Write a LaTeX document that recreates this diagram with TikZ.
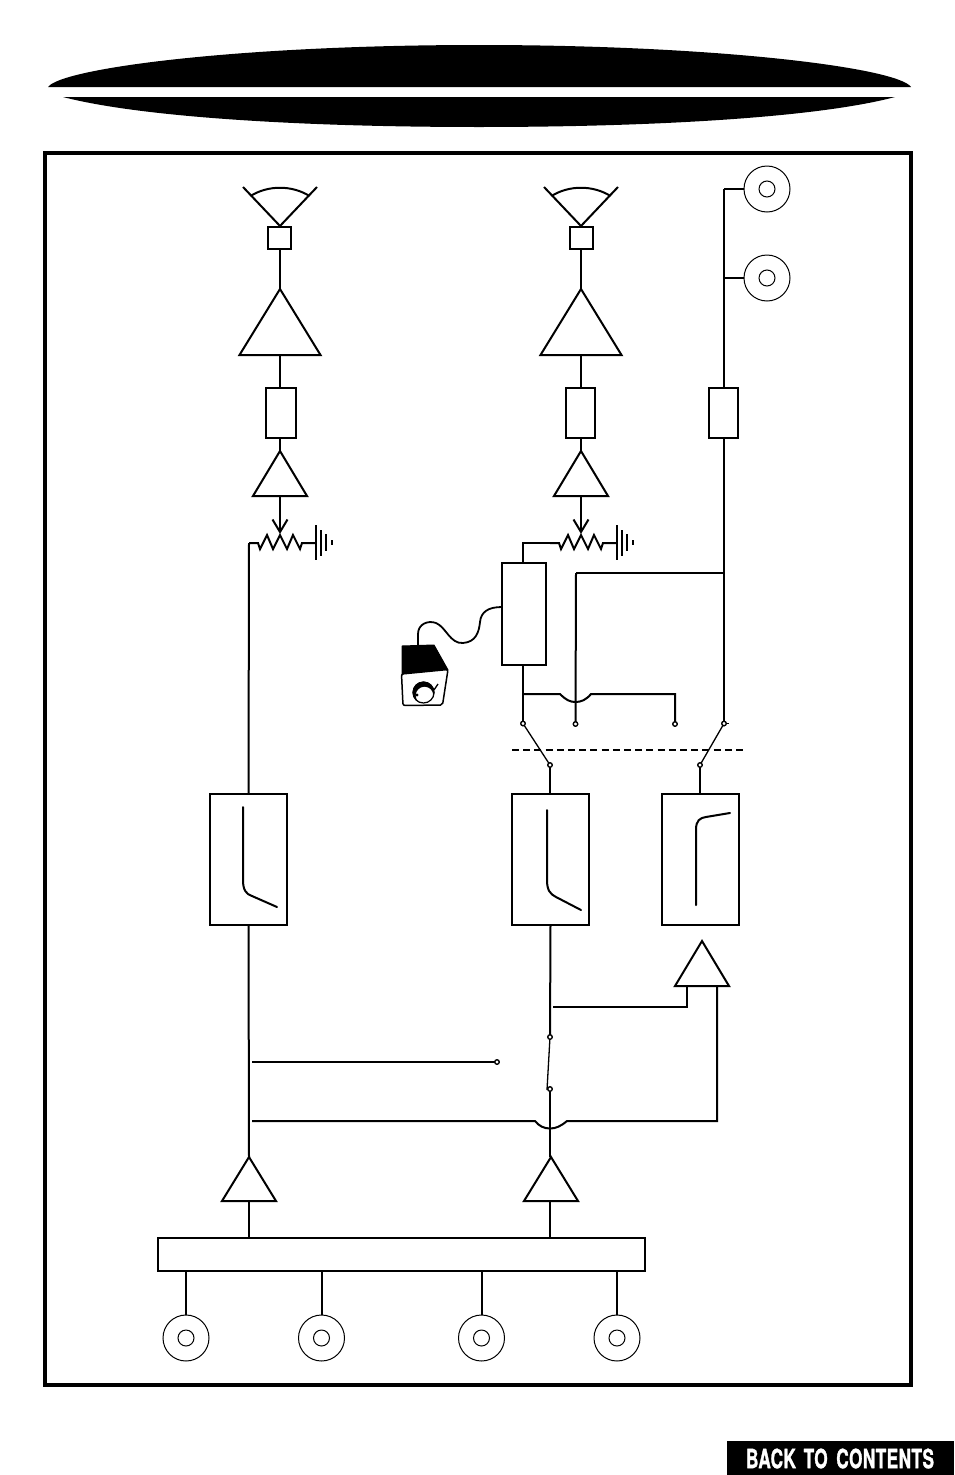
\documentclass[tikz,border=0pt]{standalone}
\usepackage{graphicx}
\usepackage{fontspec}
\newfontfamily\backfont[FakeBold=1.6,LetterSpace=2.5]{TeX Gyre Heros}
\tikzset{
  wire/.style={line width=2pt,line join=miter},
  thinwire/.style={line width=1.3pt},
  boxnode/.style 2 args={draw,line width=2pt,fill=white,inner sep=0pt,outer sep=0pt,minimum width=#1,minimum height=#2},
  contact/.style={circle,draw,line width=1.2pt,fill=white,inner sep=0pt,outer sep=0pt,minimum size=4.4pt},
  discouter/.style={circle,draw,line width=1pt,fill=white,inner sep=0pt,outer sep=0pt,minimum size=46pt},
  discinner/.style={circle,draw,line width=1pt,inner sep=0pt,outer sep=0pt,minimum size=16pt},
  pics/amp/.style n args={2}{code={
    \coordinate (-t) at (0,0);
    \coordinate (-b) at (0,#2);
    \draw[wire,fill=white] (0,0) -- (-#1,#2) -- (#1,#2) -- cycle;
  }},
  pics/speaker/.style={code={
    \coordinate (-a) at (0,0);
    \draw[wire] (-37,-39) -- (0,0) -- (37,-39);
    \draw[wire] (-29.5,-30) .. controls (-12,-41) and (12,-41) .. (29.5,-30);
  }},
  pics/pot/.style={code={
    \coordinate (-s) at (0,0);
    \coordinate (-m) at (31,-11);
    \coordinate (-ha) at (23.5,-23.5);
    \coordinate (-hb) at (38.5,-23.5);
    \draw[wire] (0,0) -- (9,0) -- (11,6) -- (18,-8) -- (24,6) -- (31,-8) -- (38,6) -- (44,-8) -- (51,6) -- (53,0) -- (67,0);
    \draw[wire] (-ha) -- (-m) -- (-hb);
    \draw[line width=2pt] (67,-18) -- (67,17);
    \draw[line width=2pt] (72,-13) -- (72,13);
    \draw[line width=2pt] (77,-9) -- (77,8);
    \draw[line width=2pt] (83,-3) -- (83,2);
  }},
}
\begin{document}
\begin{tikzpicture}[x=1pt,y=-1pt]
\useasboundingbox (0,0) rectangle (954,1475);
% title lenses
\fill (48,87) .. controls (62,68) and (240,45) .. (479,45) .. controls (720,45) and (898,68) .. (911,87) -- cycle;
\fill (63,97) .. controls (140,117) and (300,127) .. (479,127) .. controls (660,127) and (820,117) .. (895,97) -- cycle;
% frame
\node[draw,line width=4.5pt,inner sep=0pt,outer sep=0pt,minimum width=866pt,minimum height=1232pt] (frame) at (478,769) {};
% back to contents
\node[fill=black,inner sep=0pt,outer sep=0pt,minimum width=227pt,minimum height=34pt] (backbox) at (840.5,1458) {};
\node[text=white,inner sep=0pt] (backtext) at (840,1458.5) {\resizebox{188pt}{19.5pt}{\backfont\bfseries BACK\hspace{.45em}TO\hspace{.5em}CONTENTS}};

% coordinates
\coordinate (potLwire) at (249,543);
\coordinate (potRwire) at (523,543);
\coordinate (sw1) at (724,189);
\coordinate (sw2) at (724,278);
\coordinate (j573) at (724,573);
\coordinate (l573) at (576,573);
\coordinate (j693) at (523,694);
\coordinate (h1) at (560,694);
\coordinate (h2) at (591,694);
\coordinate (c693) at (675,694);
\coordinate (j1007a) at (553,1007);
\coordinate (j1007b) at (687,1007);
\coordinate (hpa) at (717,1121);
\coordinate (h3) at (567,1121);
\coordinate (h4) at (535,1121);
\coordinate (j1121) at (252,1121);
\coordinate (j1062) at (252,1062);
\coordinate (t3l) at (687,986);
\coordinate (t3r) at (717,986);
\coordinate (c4stub) at (729,723.5);

% speakers
\pic (spkL) at (280,226) {speaker};
\pic (spkR) at (581,226) {speaker};
\node[boxnode={23pt}{22pt}] (sqL) at (279.5,238) {};
\node[boxnode={23pt}{22pt}] (sqR) at (581.5,238) {};
% amps
\pic (ampL) at (280,289) {amp={40.5}{66}};
\pic (ampR) at (581,289) {amp={40.5}{66}};
\draw[wire] (ampL-t |- sqL.south) -- (ampL-t);
\draw[wire] (ampR-t |- sqR.south) -- (ampR-t);
% small boxes
\node[boxnode={30pt}{50pt}] (fL) at (281,413) {};
\node[boxnode={29pt}{50pt}] (fR) at (580.5,413) {};
\node[boxnode={29pt}{50pt}] (fS) at (723.5,413) {};
\draw[wire] (ampL-b) -- (ampL-b |- fL.north);
\draw[wire] (ampR-b) -- (ampR-b |- fR.north);
% preamps
\pic (preL) at (280,451) {amp={27}{45}};
\pic (preR) at (581,451) {amp={27}{45}};
\draw[wire] (preL-t |- fL.south) -- (preL-t);
\draw[wire] (preR-t |- fR.south) -- (preR-t);
% pots
\pic (potL) at (249,543) {pot};
\pic (potR) at (550,543) {pot};
\draw[wire] (preL-b) -- (potL-m);
\draw[wire] (preR-b) -- (potR-m);
% left channel
\node[boxnode={77pt}{131pt}] (hpL) at (248.5,859.5) {};
\node[boxnode={77pt}{131pt}] (hpR) at (550.5,859.5) {};
\node[boxnode={77pt}{131pt}] (hpS) at (700.5,859.5) {};
\draw[wire] (hpL.north) -- (potLwire);
\draw[wire] (potLwire) -- (potL-s);
\draw[wire,line cap=round] (243,807) -- (243,880) .. controls (243,890) and (246,894) .. (252,896) -- (277,907);
\draw[wire,line cap=round] (547,810) -- (547,880) .. controls (547,890) and (550,894) .. (556,897) -- (581,910);
\draw[wire,line cap=round] (696,905) -- (696,830) .. controls (696,820) and (700,818) .. (706,817) -- (730,813);
% VCA box and knob
\node[boxnode={44pt}{102pt}] (vca) at (524,614) {};
\draw[wire] (vca.north -| potRwire) -- (potRwire) -- (potR-s);
% contacts
\node[contact] (c1) at (523,723.5) {};
\node[contact] (c2) at (575.5,724) {};
\node[contact] (c3) at (675,724) {};
\node[contact] (c4) at (724,723.5) {};
\node[contact] (c5) at (550,765) {};
\node[contact] (c6) at (700,765) {};
\node[contact] (c7) at (550,1037) {};
\node[contact] (c8) at (550,1089) {};
\node[contact] (c9) at (497,1062) {};
% wires around the VCA
\draw[wire] (vca.south -| c1) -- (c1);
\draw[wire] (j693) -- (h1) .. controls (566,700) and (570,702) .. (575.5,702) .. controls (581,702) and (586,700) .. (h2) -- (c693) -- (c3);
\draw[wire] (l573) -- (c2);
\draw[wire] (j573) -- (l573);
\draw[wire] (sw1) -- (fS.north -| sw1);
\draw[wire] (fS.south -| sw1) -- (c4);
\draw[thinwire] (c4) -- (c4stub);
% switches
\draw[thinwire] (c1) -- (c5);
\draw[thinwire] (c4) -- (c6);
\coordinate (dashL) at (512,750);
\coordinate (dashR) at (743,750);
\draw[line width=2.2pt,dash pattern=on 7pt off 4.2pt] (dashL) -- (dashR);
\draw[wire] (c5) -- (hpR.north -| c5);
\draw[wire] (c6) -- (hpS.north -| c6);
\foreach \n in {c1,c2,c3,c4,c5,c6} \node[contact] at (\n) {};
% discs top right
\node[discouter] (d1) at (767,189) {};
\node[discouter] (d2) at (767,278) {};
\draw[wire] (sw1) -- (d1);
\draw[wire] (sw2) -- (d2);
\node[discinner] (d1i) at (d1) {};
\node[discinner] (d2i) at (d2) {};
% third amp
\pic (ampS) at (702,941) {amp={27}{45}};
\draw[wire] (t3l) -- (j1007b) -- (j1007a);
\draw[wire] (t3r) -- (hpa) -- (h3) .. controls (561,1126) and (556,1128.5) .. (550,1128.5) .. controls (544,1128.5) and (539,1126) .. (h4) -- (j1121);
\draw[wire] (j1062) -- (c9);
\draw[thinwire] (c7) -- (547,1090);
% input amps and bus
\pic (inL) at (249,1157) {amp={27}{44}};
\pic (inR) at (551,1157) {amp={27}{44}};
\node[boxnode={487pt}{33pt}] (bus) at (401.5,1254.5) {};
\draw[wire] (hpL.south) -- (inL-t);
\draw[wire] (hpR.south) -- (c7);
\draw[wire] (c8) -- (c8 |- inR-t);
\draw[wire] (inL-b) -- (bus.north -| inL-b);
\draw[wire] (c8 |- inR-b) -- (bus.north -| c8);
\node[contact] at (c7) {};
\node[contact] at (c8) {};
\node[contact] at (c9) {};
% bottom discs
\node[discouter] (b1) at (186,1338) {}; \node[discinner] (b1i) at (b1) {};
\node[discouter] (b2) at (321.5,1338) {}; \node[discinner] (b2i) at (b2) {};
\node[discouter] (b3) at (481.5,1338) {}; \node[discinner] (b3i) at (b3) {};
\node[discouter] (b4) at (617,1338) {}; \node[discinner] (b4i) at (b4) {};
\draw[wire] (b1.north) -- (bus.south -| b1);
\draw[wire] (b2.north) -- (bus.south -| b2);
\draw[wire] (b3.north) -- (bus.south -| b3);
\draw[wire] (b4.north) -- (bus.south -| b4);
% remote pedal
\coordinate (cordA) at (418,646);
\coordinate (cordB) at (vca.west);
\draw[line width=1.8pt] (cordA) -- (418,634) .. controls (418,624) and (428,620) .. (436,623) .. controls (446,627) and (450,644) .. (463,643) .. controls (476,642) and (479,632) .. (480,622) .. controls (481,612) and (488,607) .. (cordB |- 0,607);
\draw[fill=black,line width=1pt,line join=round] (402,646) -- (434,645) -- (448,670) -- (402,675) -- cycle;
\draw[line width=1.5pt,rounded corners=2pt,fill=white] (401.5,674) -- (448,669.5) -- (442.5,705) -- (403,705.5) -- cycle;
\fill (423.5,692.5) circle[radius=11];
\fill[white] (424.5,695.5) circle[radius=8.7];
\draw[line width=1.2pt] (423.5,692.5) circle[radius=10.5];
\fill (417,695) circle[radius=1.6];
\draw[line width=1.3pt] (434,690) -- (438,684);
\end{tikzpicture}
\end{document}
